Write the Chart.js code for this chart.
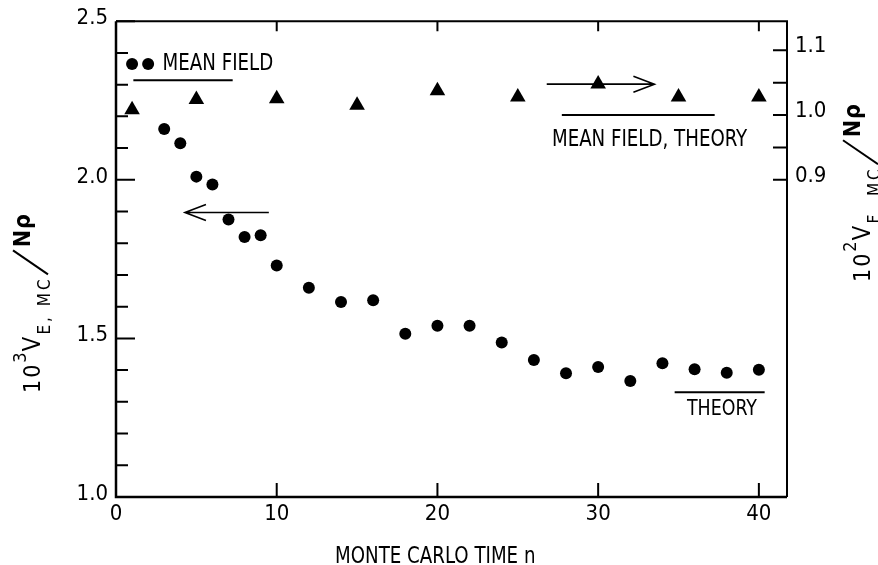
<!DOCTYPE html>
<html>
<head>
<meta charset="utf-8">
<script src="https://cdn.jsdelivr.net/npm/chart.js@4.4.1/dist/chart.umd.min.js"></script>
<style>
  html, body { margin: 0; padding: 0; background: #fff; }
  canvas { display: block; }
</style>
</head>
<body>
<canvas id="mc-chart" width="878" height="565"></canvas>
<script>
// Monte Carlo energy (left axis), sampled each step to 10, then every 2 steps
const mcSteps = [1, 2, 3, 4, 5, 6, 7, 8, 9, 10, 12, 14, 16, 18, 20, 22, 24, 26, 28, 30, 32, 34, 36, 38, 40];
const mcEnergy = [2.365, 2.365, 2.16, 2.115, 2.01, 1.985, 1.875, 1.82, 1.825, 1.73, 1.66, 1.615, 1.62, 1.515,
                  1.54, 1.54, 1.487, 1.432, 1.39, 1.41, 1.366, 1.422, 1.403, 1.392, 1.401];

// mean field energy (right axis), every 5 steps
const mfSteps = [1, 5, 10, 15, 20, 25, 30, 35, 40];
const mfEnergy = [1.008, 1.024, 1.025, 1.015, 1.0375, 1.028, 1.048, 1.028, 1.028];

// theory levels: [n from, n to, value]
const meanFieldLevel = [1.08, 7.26, 2.314];      // left axis
const theoryLevel = [34.76, 40.36, 1.33];         // left axis
const mfTheoryLevel = [27.74, 37.25, 1.0];        // right axis

// arrows pointing to the axis each series belongs to: [n tail, n tip, value]
const leftArrow = [9.51, 4.29, 1.897];
const rightArrow = [26.8, 33.5, 1.0477];

// axis ticks
const xTicks = [0, 10, 20, 30, 40];
const xTopTicks = [10, 20, 30, 40];
const yTicks = [1.0, 1.1, 1.2, 1.3, 1.4, 1.5, 1.6, 1.7, 1.8, 1.9, 2.0, 2.1, 2.2, 2.3, 2.4, 2.5];
const yLabels = ['1.0', '', '', '', '', '1.5', '', '', '', '', '2.0', '', '', '', '', '2.5'];
const y2Ticks = [0.9, 0.95, 1.0, 1.05, 1.1];
const y2Labels = ['0.9', '', '1.0', '', '1.1'];

const FONT = "'Liberation Sans Narrow', 'DejaVu Sans Condensed', 'Liberation Sans', sans-serif";
const SQUEEZE = 0.88;   // narrower lettering for the drawn labels

function levelLine(level, axis) {
  return {
    type: 'scatter',
    data: [{ x: level[0], y: level[2] }, { x: level[1], y: level[2] }],
    yAxisID: axis,
    showLine: true,
    borderColor: '#000',
    borderWidth: 2,
    pointRadius: 0
  };
}

function setTicks(values) {
  return function (scale) {
    scale.ticks = values.map(v => ({ value: v }));
  };
}

// squeezed text, align = 'left' | 'center'
function squeezedText(ctx, text, x, y, align) {
  const w = ctx.measureText(text).width * SQUEEZE;
  ctx.save();
  ctx.translate(align === 'center' ? x - w / 2 : x, y);
  ctx.scale(SQUEEZE, 1);
  ctx.textAlign = 'left';
  ctx.fillText(text, 0, 0);
  ctx.restore();
}

// draws a run of text pieces with their own size, spacing and baseline shift
function drawParts(ctx, parts) {
  let x = 0;
  parts.forEach(p => {
    if (p.slash) {
      ctx.beginPath();
      ctx.lineWidth = 2;
      ctx.moveTo(x + 2, p.y0);
      ctx.lineTo(x + p.w, p.y1);
      ctx.stroke();
      x += p.w + 3;
      return;
    }
    ctx.font = (p.bold ? 'bold ' : '') + p.size + 'px ' + FONT;
    for (const ch of p.text) {
      ctx.fillText(ch, x, p.dy || 0);
      x += ctx.measureText(ch).width + (p.spacing || 0);
    }
  });
}

const decorations = {
  id: 'decorations',
  beforeDatasetsDraw(chart) {
    const ctx = chart.ctx;
    const a = chart.chartArea;
    const sx = chart.scales.x, sy = chart.scales.y, sy2 = chart.scales.y2;
    ctx.save();
    ctx.strokeStyle = '#000';
    ctx.lineCap = 'butt';

    // frame
    ctx.lineWidth = 2.5;
    ctx.beginPath();
    ctx.moveTo(a.left, a.top);
    ctx.lineTo(a.left, a.bottom);
    ctx.lineTo(a.right, a.bottom);
    ctx.stroke();
    ctx.lineWidth = 2;
    ctx.beginPath();
    ctx.moveTo(a.left, a.top);
    ctx.lineTo(a.right, a.top);
    ctx.lineTo(a.right, a.bottom);
    ctx.stroke();

    // inward tick marks
    ctx.lineWidth = 2;
    ctx.beginPath();
    yTicks.forEach((v, i) => {
      const y = sy.getPixelForValue(v);
      ctx.moveTo(a.left, y);
      ctx.lineTo(a.left + (yLabels[i] ? 19 : 12), y);
    });
    y2Ticks.forEach(v => {
      const y = sy2.getPixelForValue(v);
      ctx.moveTo(a.right, y);
      ctx.lineTo(a.right - 14, y);
    });
    xTicks.forEach(v => {
      const x = sx.getPixelForValue(v);
      ctx.moveTo(x, a.bottom);
      ctx.lineTo(x, a.bottom - 14);
    });
    xTopTicks.forEach(v => {
      const x = sx.getPixelForValue(v);
      ctx.moveTo(x, a.top);
      ctx.lineTo(x, a.top + 10);
    });
    ctx.stroke();
    ctx.restore();
  },
  afterDatasetsDraw(chart) {
    const ctx = chart.ctx;
    const sx = chart.scales.x, sy = chart.scales.y, sy2 = chart.scales.y2;
    ctx.save();
    ctx.strokeStyle = '#000';
    ctx.fillStyle = '#000';

    // arrows
    ctx.lineWidth = 1.6;
    [[leftArrow, sy], [rightArrow, sy2]].forEach(([arr, scale]) => {
      const x0 = sx.getPixelForValue(arr[0]);
      const x1 = sx.getPixelForValue(arr[1]);
      const y = scale.getPixelForValue(arr[2]);
      const dir = x1 > x0 ? -1 : 1;
      ctx.beginPath();
      ctx.moveTo(x0, y);
      ctx.lineTo(x1, y);
      ctx.moveTo(x1 + dir * 21, y - 8);
      ctx.lineTo(x1, y);
      ctx.lineTo(x1 + dir * 21, y + 8);
      ctx.stroke();
    });

    // labels next to the reference lines
    ctx.font = '23px ' + FONT;
    ctx.textBaseline = 'middle';
    squeezedText(ctx, 'MEAN FIELD', sx.getPixelForValue(2.9), sy.getPixelForValue(2.364), 'left');
    squeezedText(ctx, 'MEAN FIELD, THEORY', sx.getPixelForValue(33.2), sy2.getPixelForValue(0.9611), 'center');
    ctx.font = '22px ' + FONT;
    squeezedText(ctx, 'THEORY', sx.getPixelForValue(37.7), sy.getPixelForValue(1.275), 'center');

    // x axis title
    ctx.font = '23px ' + FONT;
    ctx.textBaseline = 'alphabetic';
    squeezedText(ctx, 'MONTE CARLO TIME n', 335, 563, 'left');

    // left axis title
    ctx.save();
    ctx.translate(40, 393);
    ctx.rotate(-Math.PI / 2);
    drawParts(ctx, [
      { text: '10', size: 23, spacing: 2 },
      { text: '3', size: 18, dy: -14, spacing: 1 },
      { text: 'V', size: 24, spacing: 2 },
      { text: 'E, MC', size: 17, dy: 10, spacing: 3 },
      { slash: true, w: 26, y0: 8, y1: -27 },
      { text: 'Nρ', size: 23, bold: true, dy: -10, spacing: 1 }
    ]);
    ctx.restore();

    // right axis title
    ctx.save();
    ctx.translate(870, 282);
    ctx.rotate(-Math.PI / 2);
    drawParts(ctx, [
      { text: '10', size: 23, spacing: 2 },
      { text: '2', size: 18, dy: -14, spacing: 1 },
      { text: 'V', size: 24, spacing: 2 },
      { text: 'F  MC', size: 17, dy: 10, spacing: 3 },
      { slash: true, w: 26, y0: 8, y1: -27 },
      { text: 'Nρ', size: 23, bold: true, dy: -10, spacing: 1 }
    ]);
    ctx.restore();

    ctx.restore();
  }
};

new Chart(document.getElementById('mc-chart'), {
  type: 'scatter',
  data: {
    datasets: [
      {
        data: mcSteps.map((n, i) => ({ x: n, y: mcEnergy[i] })),
        yAxisID: 'y',
        pointStyle: 'circle',
        pointRadius: 6,
        backgroundColor: '#000',
        borderColor: '#000',
        borderWidth: 0
      },
      {
        data: mfSteps.map((n, i) => ({ x: n, y: mfEnergy[i] })),
        yAxisID: 'y2',
        pointStyle: 'triangle',
        pointRadius: 9,
        backgroundColor: '#000',
        borderColor: '#000',
        borderWidth: 0
      },
      levelLine(meanFieldLevel, 'y'),
      levelLine(theoryLevel, 'y'),
      levelLine(mfTheoryLevel, 'y2')
    ]
  },
  options: {
    responsive: false,
    animation: false,
    devicePixelRatio: 1,
    layout: { padding: { top: 19, left: 0, right: 0, bottom: 0 } },
    plugins: { legend: { display: false }, tooltip: { enabled: false } },
    scales: {
      x: {
        type: 'linear',
        position: 'bottom',
        min: 0,
        max: 41.75,
        grid: { display: false, drawTicks: false },
        border: { display: false },
        ticks: { color: '#000', padding: 4, maxRotation: 0, font: { family: FONT, size: 22 } },
        afterBuildTicks: setTicks(xTicks),
        afterFit: s => { s.height = 68; }
      },
      y: {
        position: 'left',
        min: 1.0,
        max: 2.5,
        grid: { display: false, drawTicks: false },
        border: { display: false },
        ticks: {
          color: '#000', padding: 8, labelOffset: -3, font: { family: FONT, size: 22 },
          callback: (v, i) => yLabels[i]
        },
        afterBuildTicks: setTicks(yTicks),
        afterFit: s => { s.width = 116; }
      },
      y2: {
        position: 'right',
        min: 0.4102,
        max: 1.1449,
        grid: { display: false, drawTicks: false },
        border: { display: false },
        ticks: {
          color: '#000', padding: 8, labelOffset: -4, font: { family: FONT, size: 22 },
          callback: (v, i) => y2Labels[i]
        },
        afterBuildTicks: setTicks(y2Ticks),
        afterFit: s => { s.width = 91; }
      }
    }
  },
  plugins: [decorations]
});
</script>
</body>
</html>
